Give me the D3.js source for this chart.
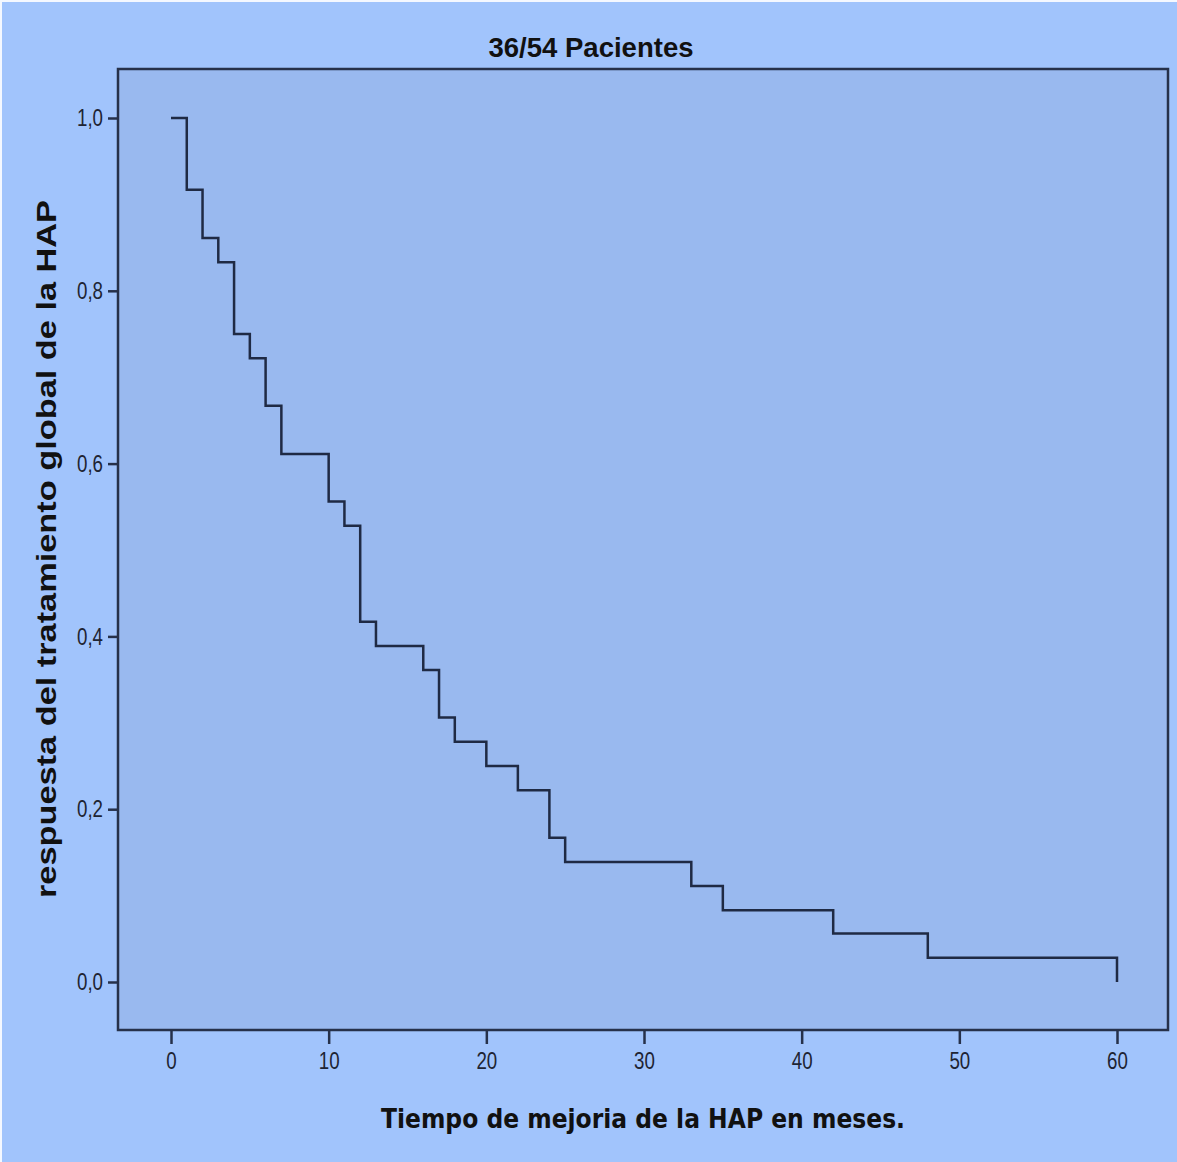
<!DOCTYPE html>
<html>
<head>
<meta charset="utf-8">
<script src="https://cdn.jsdelivr.net/npm/d3@7"></script>
<style>
  html, body { margin: 0; padding: 0; background: #a1c4fc; }
  svg { display: block; }
</style>
</head>
<body>
<div id="chart"></div>
<script>
// Kaplan-Meier style step data (time in months, proportion)
const times = [0, 1, 2, 3, 4, 5, 6, 7, 10, 11, 12, 13, 16, 17, 18, 20, 22, 24, 25, 33, 35, 42, 48, 60];
const survival = [1.0, 0.917, 0.861, 0.833, 0.75, 0.722, 0.667, 0.611, 0.556, 0.528, 0.417, 0.389,
  0.361, 0.306, 0.278, 0.25, 0.222, 0.167, 0.139, 0.111, 0.083, 0.056, 0.028, 0.0];
const xTicks = [0, 10, 20, 30, 40, 50, 60];
const yTicks = [0, 0.2, 0.4, 0.6, 0.8, 1.0];

const title = '36/54 Pacientes';
const xLabel = 'Tiempo de mejoria de la HAP en meses.';
const yLabel = 'respuesta del tratamiento global de la HAP';

const width = 1177, height = 1162;
const frame = { left: 118, top: 69, right: 1168, bottom: 1030 };
const narrow = 0.78; // horizontal squeeze to mimic a narrow font

const svg = d3.select('#chart').append('svg')
  .attr('width', width)
  .attr('height', height);

svg.append('rect')
  .attr('width', width).attr('height', height)
  .attr('fill', '#a1c4fc');

// thin white edge at top/left like the scan
svg.append('rect').attr('x', 0).attr('y', 0).attr('width', width).attr('height', 2).attr('fill', '#f4f8ff');
svg.append('rect').attr('x', 0).attr('y', 0).attr('width', 2).attr('height', height).attr('fill', '#f4f8ff');

const x = d3.scaleLinear().domain([0, 60]).range([171, 1117]);
const y = d3.scaleLinear().domain([0, 1]).range([982, 118]);

svg.append('rect')
  .attr('x', frame.left).attr('y', frame.top)
  .attr('width', frame.right - frame.left)
  .attr('height', frame.bottom - frame.top)
  .attr('fill', '#99b9ef')
  .attr('stroke', '#26314a')
  .attr('stroke-width', 2.5);

const tickFont = '"Liberation Sans", Arial, sans-serif';

// x axis
const xAxis = d3.axisBottom(x).tickValues(xTicks).tickSize(14).tickPadding(8).tickFormat(d3.format('d'));
const gx = svg.append('g')
  .attr('transform', `translate(0,${frame.bottom})`)
  .call(xAxis);
gx.select('.domain').remove();
gx.selectAll('.tick line').attr('stroke', '#26314a').attr('stroke-width', 2.5);
gx.selectAll('.tick text')
  .attr('fill', '#1e2433')
  .attr('transform', `scale(${narrow},1)`)
  .style('font-family', tickFont)
  .style('font-size', '24px');

// y axis
const fmtComma = d => d.toFixed(1).replace('.', ',');
const yAxis = d3.axisLeft(y).tickValues(yTicks).tickSize(10).tickPadding(5).tickFormat(fmtComma);
const gy = svg.append('g')
  .attr('transform', `translate(${frame.left},0)`)
  .call(yAxis);
gy.select('.domain').remove();
gy.selectAll('.tick line').attr('stroke', '#26314a').attr('stroke-width', 2.5);
gy.selectAll('.tick text')
  .attr('fill', '#1e2433')
  .attr('x', -15 / narrow)
  .attr('transform', `scale(${narrow},1)`)
  .style('font-family', tickFont)
  .style('font-size', '24px');

// step line
const line = d3.line()
  .x(d => x(d[0]))
  .y(d => y(d[1]))
  .curve(d3.curveStepAfter);

svg.append('path')
  .datum(times.map((t, i) => [t, survival[i]]))
  .attr('d', line)
  .attr('fill', 'none')
  .attr('stroke', '#1f2a44')
  .attr('stroke-width', 2.5);

// title
svg.append('text')
  .attr('x', 591).attr('y', 57)
  .attr('text-anchor', 'middle')
  .attr('textLength', 205)
  .attr('lengthAdjust', 'spacingAndGlyphs')
  .style('font-family', tickFont)
  .style('font-weight', 'bold')
  .style('font-size', '28px')
  .attr('fill', '#111')
  .text(title);

// x label
svg.append('text')
  .attr('x', 643).attr('y', 1128)
  .attr('text-anchor', 'middle')
  .attr('textLength', 524)
  .attr('lengthAdjust', 'spacingAndGlyphs')
  .style('font-family', '"DejaVu Sans", sans-serif')
  .style('font-weight', 'bold')
  .style('font-size', '27px')
  .attr('fill', '#111')
  .text(xLabel);

// y label
svg.append('text')
  .attr('transform', 'translate(56,549) rotate(-90)')
  .attr('text-anchor', 'middle')
  .attr('textLength', 698)
  .attr('lengthAdjust', 'spacingAndGlyphs')
  .style('font-family', '"Liberation Sans", Arial, sans-serif')
  .style('font-weight', 'bold')
  .style('font-size', '27px')
  .attr('fill', '#111')
  .text(yLabel);
</script>
</body>
</html>
